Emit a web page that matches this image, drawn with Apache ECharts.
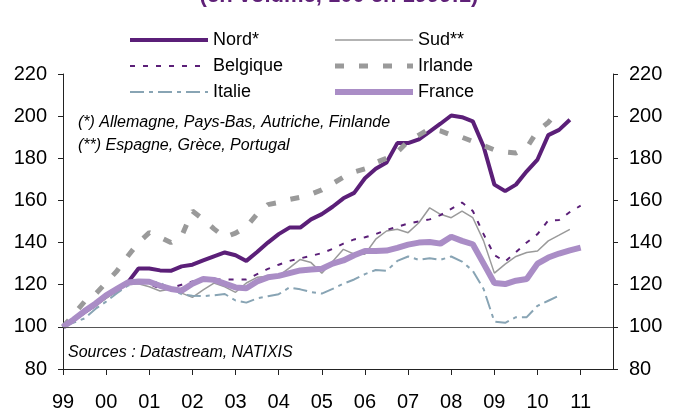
<!DOCTYPE html>
<html lang="fr">
<head>
<meta charset="utf-8"/>
<title>Nord / Sud</title>
<script src="https://cdn.jsdelivr.net/npm/echarts@6/dist/echarts.min.js"></script>
<style>
    html, body { margin: 0; background: #FFFFFF; }
    #chart { width: 682px; height: 412px; }
</style>
</head>
<body>
<div id="chart"></div>
<script>
    var FONT = '"Liberation Sans", Arial, sans-serif';

    // trimestres 1999T1 .. 2011T4
    var years = ['99', '00', '01', '02', '03', '04', '05', '06', '07', '08', '09', '10', '11'];
    var quarters = [];
    years.forEach(function (y) {
        for (var q = 1; q <= 4; q++) quarters.push(y + 'T' + q);
    });

    // indices en volume, 100 en 1999:1
    var nord = [100, 103.5, 107, 110.5, 114.5, 117.5, 121, 127.7, 127.7, 126.8, 126.6, 128.7,
        129.5, 131.5, 133.5, 135.3, 134, 131.3, 135.5, 140, 144, 147.1, 147.1, 151,
        153.5, 157, 161, 163.6, 170.5, 175, 178, 187.2, 187.2, 189, 192.7, 196.4,
        200.3, 199.5, 197.5, 185.6, 167.5, 164.4, 167.5, 173.8, 179.4, 191, 193.5, 198.3];
    var sud = [100, 103, 106.5, 110, 113.5, 117, 120, 120.5, 119, 117, 118, 116,
        114, 117.5, 120.8, 119, 116.4, 120.8, 123.5, 124, 124.2, 128, 132, 130.5,
        125.5, 131, 136.8, 134.5, 134.5, 141.6, 145.5, 146.3, 144.7, 149.4, 156.5, 153.4,
        151.8, 154.9, 151.8, 140.8, 125.5, 129.8, 133.4, 135.3, 136, 140.8, 143.5, 146.3];
    var belgique = [100, 104, 108, 111.5, 115, 118, 121, 121.5, 120.5, 118, 118.5, 120,
        121.5, 122.5, 122.5, 122.5, 122.5, 122.5, 125, 127.5, 129.5, 131.3, 132.5, 133.7,
        135, 137, 139.5, 141.5, 142.5, 144, 146, 147.5, 149, 150, 151, 153,
        156, 159, 155, 144, 134, 131, 135.5, 140, 144, 150.5, 150.7, 154.5, 157.5];
    var irlande = [100, 106, 112, 115.5, 121, 126.5, 133.5, 140, 144.7, 142.5, 140, 143,
        155, 151, 146.5, 142.5, 144.5, 147.5, 153.5, 158, 159, 160.5, 161.5, 163,
        165, 168, 171, 173.5, 175, 178, 180, 183, 188, 191, 194, 193,
        191, 190, 188, 186, 184, 183, 182.5, 185, 193, 197, 203];
    var italie = [100, 102, 104, 108.5, 112, 116, 119.5, 121, 121.5, 121, 118, 115.5,
        114.8, 114.6, 115, 115.6, 112.5, 111.5, 113.5, 114.5, 115.5, 118.7, 117.8, 116.5,
        115.8, 118, 120.5, 122.5, 125, 127, 126.6, 131.3, 133.4, 131.8, 132.6, 131.8,
        133.4, 131, 126.6, 118, 102.5, 101.9, 104.6, 104.6, 110, 112.4, 114.8];
    var france = [100, 103.5, 107.5, 111, 115, 118, 121, 121.5, 121.4, 119.5, 118, 117.2,
        120.5, 122.7, 122.3, 120.5, 118.7, 118.3, 121.5, 123.5, 124.2, 125.5, 126.8, 127.2,
        127.6, 130, 131.5, 134, 136, 136, 136.2, 137.5, 139, 140, 140.3, 139.5,
        142.8, 140.8, 139.2, 130, 120.8, 120.3, 121.9, 122.7, 130, 132.9, 134.8, 136.3, 137.6];

    var PURPLE = '#5b1f78';
    var GREY = '#9a9a9a';
    var LAVENDER = '#aa8dc6';
    var BLUEGREY = '#88a4b4';

    var styles = {
        'Nord*': {color: PURPLE, width: 4, type: 'solid'},
        'Sud**': {color: GREY, width: 1.5, type: 'solid'},
        'Belgique': {color: PURPLE, width: 2, type: [5, 8]},
        'Irlande': {color: GREY, width: 5, type: [9, 15]},
        'Italie': {color: BLUEGREY, width: 2, type: [14, 5, 4, 5]},
        'France': {color: LAVENDER, width: 6, type: 'solid'}
    };

    function line(name, data) {
        return {
            name: name,
            type: 'line',
            data: data,
            symbol: 'none',
            animation: false,
            color: styles[name].color,
            lineStyle: styles[name]
        };
    }

    // legende : trait seul, sans le rond du symbole
    function legendItems(names) {
        return names.map(function (n) {
            return {name: n, lineStyle: styles[n], itemStyle: {opacity: 0, borderWidth: 0}};
        });
    }

    var legendBase = {
        orient: 'vertical',
        top: 31,
        padding: 0,
        itemWidth: 78,
        itemHeight: 17,
        itemGap: 8,
        textStyle: {fontSize: 18, color: '#000', fontFamily: FONT}
    };

    var yAxisBase = {
        type: 'value',
        min: 80,
        max: 220,
        interval: 20,
        axisLine: {show: true, lineStyle: {color: '#222', width: 1}},
        axisTick: {show: true, length: 5, lineStyle: {color: '#222'}},
        axisLabel: {fontSize: 20, color: '#000', fontFamily: FONT, margin: 16},
        splitLine: {show: false}
    };

    var chart = echarts.init(document.getElementById('chart'), null, {renderer: 'canvas'});

    var nordSeries = line('Nord*', nord);
    nordSeries.markLine = {
        silent: true,
        symbol: 'none',
        label: {show: false},
        lineStyle: {color: '#555', width: 1.2, type: 'solid'},
        data: [{yAxis: 100}]
    };

    chart.setOption({
        backgroundColor: '#fff',
        animation: false,
        grid: {left: 63, right: 69, top: 74, bottom: 41},
        legend: [
            Object.assign({}, legendBase, {left: 128, data: legendItems(['Nord*', 'Belgique', 'Italie'])}),
            Object.assign({}, legendBase, {left: 332, data: legendItems(['Sud**', 'Irlande', 'France'])})
        ],
        xAxis: {
            type: 'category',
            data: quarters,
            boundaryGap: false,
            axisLine: {lineStyle: {color: '#222', width: 1}},
            axisTick: {
                show: true, length: 6, lineStyle: {color: '#222'},
                interval: function (i) { return i % 4 === 0; }
            },
            axisLabel: {
                fontSize: 20, color: '#000', fontFamily: FONT, margin: 23,
                interval: function (i) { return i % 4 === 0; },
                formatter: function (v) { return v.slice(0, 2); }
            },
            splitLine: {show: false}
        },
        yAxis: [
            Object.assign({}, yAxisBase, {position: 'left'}),
            Object.assign({}, yAxisBase, {position: 'right'})
        ],
        graphic: [
            {
                type: 'text', x: 339, y: 7,
                style: {
                    text: '(en volume, 100 en 1999:1)', fill: '#5f2178',
                    font: 'bold 22px ' + FONT, align: 'center', verticalAlign: 'bottom'
                }
            },
            {
                type: 'text', x: 78, y: 123,
                style: {
                    text: '(*) Allemagne, Pays-Bas, Autriche, Finlande', fill: '#000',
                    font: 'italic 16px ' + FONT, verticalAlign: 'middle'
                }
            },
            {
                type: 'text', x: 78, y: 146,
                style: {
                    text: '(**) Espagne, Grèce, Portugal', fill: '#000',
                    font: 'italic 16px ' + FONT, verticalAlign: 'middle'
                }
            },
            {
                type: 'text', x: 68, y: 353,
                style: {
                    text: 'Sources : Datastream, NATIXIS', fill: '#000',
                    font: 'italic 16px ' + FONT, verticalAlign: 'middle'
                }
            }
        ],
        series: [
            nordSeries,
            line('Sud**', sud),
            line('Belgique', belgique),
            line('Irlande', irlande),
            line('Italie', italie),
            line('France', france)
        ]
    });

    window.addEventListener('resize', function () { chart.resize(); });
</script>
</body>
</html>
